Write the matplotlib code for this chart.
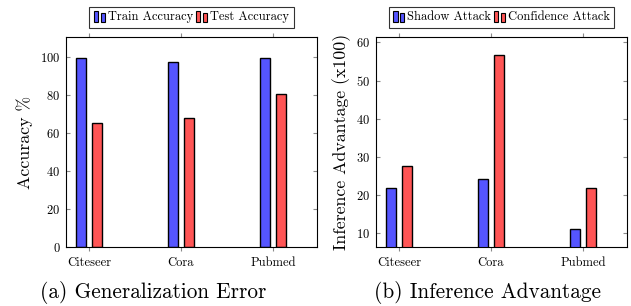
import numpy as np
import matplotlib
matplotlib.use("Agg")
import matplotlib.pyplot as plt
from matplotlib.patches import Rectangle
from matplotlib.legend_handler import HandlerBase

plt.rcParams['font.family'] = ['cmr10', 'DejaVu Serif']
plt.rcParams['mathtext.fontset'] = 'cm'
plt.rcParams['axes.formatter.use_mathtext'] = True

datasets = ['Citeseer', 'Cora', 'Pubmed']
train_acc = [99.2, 97.3, 99.6]
test_acc = [65.2, 68.0, 80.6]
shadow_attack = [21.8, 24.1, 11.0]
confidence_attack = [27.6, 56.6, 21.8]

BLUE = '#5555ff'
RED = '#ff5555'
TICK_GRAY = '#8a8a8a'


class TwoBarHandler(HandlerBase):
    # pgfplots-style ybar legend glyph: two small bars
    def create_artists(self, legend, orig_handle, xdescent, ydescent,
                       width, height, fontsize, trans):
        fc = orig_handle.get_facecolor()
        bw = width * 0.34
        r1 = Rectangle((-xdescent + width * 0.02, -ydescent - 1), bw, height * 1.05 + 1,
                       facecolor=fc, edgecolor='black', lw=0.8, transform=trans)
        r2 = Rectangle((-xdescent + width * 0.54, -ydescent - 1), bw, height * 0.85 + 1,
                       facecolor=fc, edgecolor='black', lw=0.8, transform=trans)
        return [r1, r2]


def draw_panel(ax, a, b, labels, ylabel, yticks, ylim):
    x = np.arange(len(datasets))
    w = 0.11
    off = 0.09
    h1 = ax.bar(x - off, a, w, color=BLUE, edgecolor='black', lw=1.0)
    h2 = ax.bar(x + off, b, w, color=RED, edgecolor='black', lw=1.0)
    ax.set_xlim(-0.25, 2.48)
    ax.set_ylim(*ylim)
    ax.set_xticks(x)
    ax.set_xticklabels(datasets, fontsize=9)
    ax.set_yticks(yticks)
    ax.tick_params(axis='y', direction='in', right=True, labelsize=9, length=3,
                   width=0.8, color=TICK_GRAY, pad=4)
    ax.tick_params(axis='x', direction='out', top=True, length=3, width=0.8,
                   color=TICK_GRAY, pad=4)
    ax.set_ylabel(ylabel, fontsize=12.8)
    for s in ax.spines.values():
        s.set_linewidth(0.8)
    leg = ax.legend([h1.patches[0], h2.patches[0]], labels, ncol=2,
                    loc='lower center', bbox_to_anchor=(0.5, 1.045),
                    fontsize=9, frameon=True, fancybox=False, edgecolor='black',
                    handlelength=1.0, handletextpad=0.15, columnspacing=0.2,
                    borderpad=0.35, borderaxespad=0.0,
                    handler_map={Rectangle: TwoBarHandler()})
    leg.get_frame().set_linewidth(0.8)


fig = plt.figure(figsize=(6.31, 3.06), dpi=100)
ax1 = fig.add_axes([66 / 631, 59 / 306, 251 / 631, 210 / 306])
ax2 = fig.add_axes([376 / 631, 59 / 306, 251 / 631, 210 / 306])

draw_panel(ax1, train_acc, test_acc, ['Train Accuracy', 'Test Accuracy'],
           'Accuracy %', [0, 20, 40, 60, 80, 100], (0, 110.5))
draw_panel(ax2, shadow_attack, confidence_attack, ['Shadow Attack', 'Confidence Attack'],
           'Inference Advantage (x100)', [10, 20, 30, 40, 50, 60], (6.4, 61.4))

ax1.yaxis.set_label_coords(-0.13, 0.5)
ax2.yaxis.set_label_coords(-0.10, 0.5)

fig.text(153 / 631, 14 / 306, '(a) Generalization Error', ha='center', va='center', fontsize=15.3)
fig.text(488 / 631, 14 / 306, '(b) Inference Advantage', ha='center', va='center', fontsize=15.3)

fig.savefig('out.png', dpi=100)
